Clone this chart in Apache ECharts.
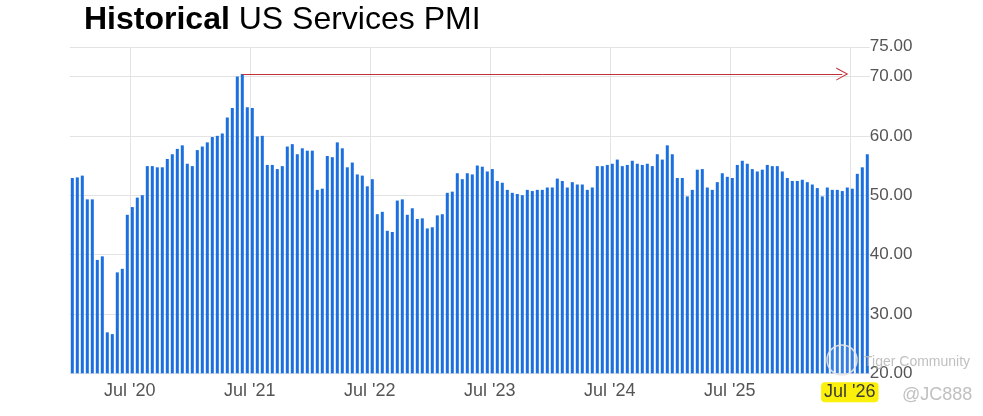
<!DOCTYPE html>
<html>
<head>
<meta charset="utf-8">
<script src="https://cdn.jsdelivr.net/npm/echarts@6/dist/echarts.min.js"></script>
<style>
html,body{margin:0;padding:0;background:#ffffff;}
#chart{width:983px;height:416px;}
</style>
</head>
<body>
<div id="chart"></div>
<script>
// Services PMI readings (flash + final per month)
const pmiValues = [
  52.9, 53.0, 53.3, 49.3, 49.3, 39.1, 39.7, 26.9, 26.6, 37.0,
  37.6, 46.7, 48.0, 49.6, 50.0, 54.9, 54.9, 54.7, 54.7, 56.1,
  56.9, 57.8, 58.4, 55.3, 54.9, 57.6, 58.2, 58.9, 59.8, 60.0,
  60.4, 63.1, 64.7, 70.0, 70.4, 64.8, 64.7, 59.9, 60.0, 55.1,
  55.1, 54.4, 54.9, 58.2, 58.6, 56.9, 57.9, 57.5, 57.5, 50.9,
  51.1, 56.6, 56.4, 58.9, 57.9, 54.7, 55.5, 53.5, 53.3, 51.5,
  52.7, 46.8, 47.2, 44.0, 43.8, 49.1, 49.3, 46.7, 47.8, 46.0,
  46.1, 44.4, 44.6, 46.6, 46.8, 50.4, 50.6, 53.7, 52.7, 53.7,
  53.5, 55.0, 54.8, 54.0, 54.4, 52.4, 52.1, 50.9, 50.4, 50.2,
  50.0, 50.9, 50.7, 50.9, 50.9, 51.3, 51.3, 52.8, 52.4, 51.3,
  52.2, 51.8, 51.8, 50.9, 51.3, 54.9, 54.9, 55.1, 55.3, 56.0,
  54.9, 55.1, 55.8, 55.3, 55.1, 55.3, 54.9, 56.9, 56.0, 58.4,
  56.9, 52.9, 52.9, 49.8, 50.9, 54.3, 54.4, 51.3, 50.9, 52.2,
  53.7, 53.1, 52.9, 55.1, 55.8, 55.3, 54.4, 54.0, 54.3, 55.1,
  54.9, 54.9, 54.0, 52.9, 52.4, 52.4, 52.6, 52.2, 51.8, 51.2,
  49.8, 51.3, 50.9, 50.9, 50.7, 51.3, 51.1, 53.6, 54.7, 56.9
];
const categories = pmiValues.map((_, i) => 'P' + i);
const tickIndex = [12, 36, 60, 84, 108, 132, 156];
const tickLabels = ["Jul '20", "Jul '21", "Jul '22", "Jul '23", "Jul '24", "Jul '25", "Jul '26"];
const highlightedLabel = "Jul '26";
const peakIndex = 34;
const peakValue = 70.4;
const arrowEndIndex = 154;
const yMin = 20, yMax = 75, yStep = 10;

const FONT = "'Liberation Sans', Arial, Helvetica, sans-serif";
const isTick = (i) => tickIndex.indexOf(i) >= 0;

const chart = echarts.init(document.getElementById('chart'), null, {renderer: 'canvas'});
chart.setOption({
  backgroundColor: '#ffffff',
  animation: false,
  grid: {left: 69.8, right: 113.2, top: 46.8, bottom: 42.7, containLabel: false},
  xAxis: {
    type: 'category',
    data: categories,
    boundaryGap: true,
    axisLine: {show: false},
    axisTick: {show: false},
    axisLabel: {
      interval: (i) => isTick(i),
      margin: 9,
      color: '#555555',
      fontSize: 18,
      fontFamily: FONT,
      padding: [0, 5, 0, 0],
      formatter: (v, i) => {
        const k = tickIndex.indexOf(i);
        if (k < 0) return '';
        const t = tickLabels[k];
        return t === highlightedLabel ? '{hl|' + t + '}' : t;
      },
      rich: {
        hl: {
          backgroundColor: '#fbf00a',
          color: '#3a3a3a',
          fontSize: 18,
          fontFamily: FONT,
          padding: [1, 3, 1, 3],
          borderRadius: 4
        }
      }
    },
    splitLine: {
      show: true,
      interval: (i) => isTick(i),
      showMaxLine: false,
      lineStyle: {color: '#e3e3e3', width: 1}
    }
  },
  yAxis: {
    type: 'value',
    position: 'right',
    min: yMin,
    max: yMax,
    interval: yStep,
    axisLine: {show: false},
    axisTick: {show: false},
    axisLabel: {
      margin: 0,
      color: '#555555',
      fontSize: 17,
      fontFamily: FONT,
      formatter: (v) => v.toFixed(2)
    },
    splitLine: {show: true, lineStyle: {color: '#e3e3e3', width: 1}}
  },
  series: [{
    type: 'bar',
    data: pmiValues,
    barWidth: 3,
    itemStyle: {color: '#1b6fe0'},
    silent: true,
    markLine: {
      silent: true,
      animation: false,
      label: {show: false},
      lineStyle: {color: '#c3303a', width: 1, type: 'solid'},
      symbol: ['none', 'path://M0,10 L5,0 L10,10 L9.1,10 L5,1.8 L0.9,10 Z'],
      symbolSize: [13, 12],
      data: [[
        {coord: [categories[peakIndex], peakValue]},
        {coord: [categories[arrowEndIndex], peakValue]}
      ]]
    }
  }],
  graphic: [
    {
      type: 'text',
      x: 84,
      y: 20,
      z: 100,
      silent: true,
      style: {
        text: '{b|Historical} {r|US Services PMI}',
        fill: '#000000',
        fontSize: 32,
        fontFamily: FONT,
        verticalAlign: 'middle',
        rich: {
          b: {fontWeight: 'bold', fontSize: 32, fontFamily: FONT, fill: '#000000'},
          r: {fontWeight: 'normal', fontSize: 32, fontFamily: FONT, fill: '#000000'}
        }
      }
    },
    {
      type: 'circle',
      silent: true,
      z: 100,
      shape: {cx: 842, cy: 360, r: 15},
      style: {fill: 'rgba(255,255,255,0.12)', stroke: 'rgba(230,230,230,0.9)', lineWidth: 1.5}
    },
    {
      type: 'text',
      silent: true,
      z: 100,
      x: 864,
      y: 362,
      style: {text: 'Tiger Community', fill: 'rgba(185,185,185,0.9)', fontSize: 14, fontFamily: FONT, verticalAlign: 'middle'}
    },
    {
      type: 'text',
      silent: true,
      z: 100,
      x: 902,
      y: 395,
      style: {text: '@JC888', fill: 'rgba(185,185,185,0.9)', fontSize: 18, fontFamily: FONT, verticalAlign: 'middle'}
    }
  ]
});
</script>
</body>
</html>
